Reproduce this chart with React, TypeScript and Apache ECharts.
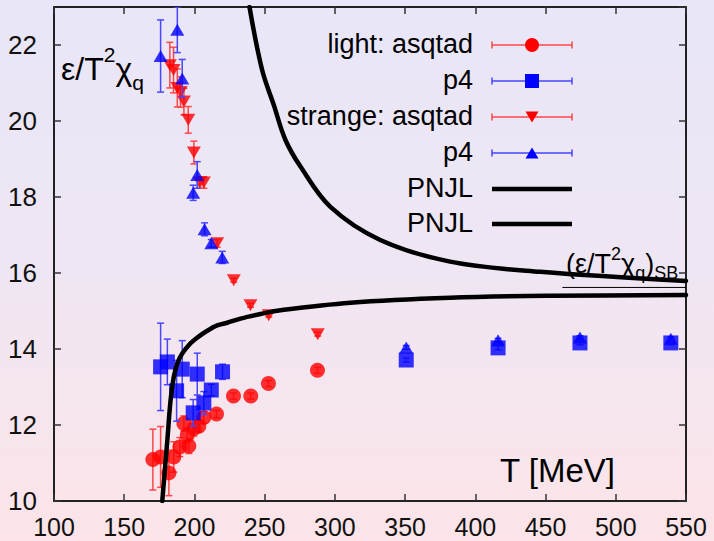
import React, { useEffect, useRef } from 'react';
import * as echarts from 'echarts';

const FONT = '"Liberation Sans", Arial, Helvetica, sans-serif';

// ---------- data ----------
const lightAsqtadT = [170.4, 175.9, 181.8, 185.3, 189.6, 192.5, 194.9, 196.0, 199.6, 203.1, 206.7, 215.7, 227.8, 240.1, 252.7, 287.6];
const lightAsqtadV = [11.09, 11.16, 10.74, 11.16, 11.42, 12.04, 11.73, 11.45, 11.91, 11.97, 12.2, 12.29, 12.76, 12.76, 13.09, 13.44];
const lightAsqtadErr = [0.8, 0.8, 0.6, 0.4, 0.25, 0.2, 0.2, 0.2, 0.2, 0.15, 0.15, 0.1, 0.08, 0.08, 0.08, 0.08];

const lightP4T = [175.9, 180.7, 187.3, 191.3, 199.1, 202.0, 206.7, 212.0, 220.0, 350.8, 416.2, 474.5, 539.2];
const lightP4V = [13.53, 13.66, 12.9, 13.47, 12.32, 13.34, 12.58, 12.92, 13.4, 13.71, 14.03, 14.16, 14.16];
const lightP4Err = [1.15, 0.6, 0.8, 0.75, 0.35, 0.55, 0.3, 0.15, 0.2, 0.05, 0.05, 0.05, 0.05];

const strangeAsqtadT = [182.5, 185.1, 187.8, 190.1, 192.5, 195.6, 199.6, 203.8, 206.7, 216.2, 228.0, 239.9, 252.9, 287.8];
const strangeAsqtadV = [21.47, 21.34, 20.87, 20.76, 20.51, 20.03, 19.17, 18.38, 18.38, 16.78, 15.81, 15.15, 14.89, 14.39];
const strangeAsqtadErr = [0.6, 0.6, 0.5, 0.4, 0.35, 0.35, 0.3, 0.15, 0.15, 0.1, 0.05, 0.05, 0.05, 0.05];

const strangeP4T = [175.9, 187.8, 191.3, 199.1, 202.0, 207.2, 212.0, 219.8, 350.8, 416.2, 474.5, 539.2];
const strangeP4V = [21.71, 22.4, 21.12, 18.11, 18.58, 17.15, 16.78, 16.41, 14.04, 14.23, 14.3, 14.27];
const strangeP4Err = [0.95, 0.6, 0.5, 0.2, 0.35, 0.17, 0.1, 0.16, 0.05, 0.05, 0.05, 0.05];

const pnjlLightT = [177.1, 180.7, 183.0, 185.3, 187.8, 191.3, 197.2, 202.0, 209.1, 216.2, 223.3, 232.8, 247.0, 261.2, 311, 382, 453.4, 550];
const pnjlLightV = [10.0, 11.6, 12.65, 13.27, 13.62, 13.88, 14.15, 14.3, 14.48, 14.62, 14.69, 14.8, 14.92, 15.02, 15.22, 15.35, 15.4, 15.42];

const pnjlStrangeT = [239.2, 248.2, 256.5, 264.8, 275.5, 296.8, 332.3, 382, 446.2, 550];
const pnjlStrangeV = [23.0, 21.34, 20.42, 19.5, 18.8, 17.74, 16.87, 16.3, 16.03, 15.79];

const sbLimitT = [462, 550];
const sbLimitV = [15.62, 15.62];

const legendLabels = ['light: asqtad', 'p4', 'strange: asqtad', 'p4', 'PNJL', 'PNJL'];
const xAxisTitle = 'T [MeV]';

const RED = '#ff0000';
const BLUE = '#0000ff';
const RED_BAR = '#ff4747';
const BLUE_BAR = '#4747ff';

function errorSeries(T: number[], V: number[], E: number[], color: string, z: number) {
  return {
    type: 'custom',
    z,
    silent: true,
    clip: true,
    data: T.map((t, i) => [t, V[i], E[i]]),
    encode: { x: 0, y: 1 },
    renderItem: (_params: any, api: any) => {
      const x = api.value(0);
      const y = api.value(1);
      const e = api.value(2);
      const top = api.coord([x, y + e]);
      const bot = api.coord([x, y - e]);
      const hw = 3.5;
      const st = { stroke: color, lineWidth: 1.5 };
      return {
        type: 'group',
        children: [
          { type: 'line', shape: { x1: top[0], y1: top[1], x2: bot[0], y2: bot[1] }, style: st },
          { type: 'line', shape: { x1: top[0] - hw, y1: top[1], x2: top[0] + hw, y2: top[1] }, style: st },
          { type: 'line', shape: { x1: bot[0] - hw, y1: bot[1], x2: bot[0] + hw, y2: bot[1] }, style: st },
        ],
      };
    },
  };
}

function pairs(T: number[], V: number[]) {
  return T.map((t, i) => [t, V[i]]);
}

function legendGraphics() {
  const rows = [45, 81, 117, 153, 189, 224];
  const xText = 473;
  const x1 = 492;
  const x2 = 572;
  const xm = 532;
  const els: any[] = [];
  rows.forEach((y, i) => {
    els.push({
      type: 'text',
      x: xText,
      y: y - 1,
      z: 100,
      style: { text: legendLabels[i], fontSize: 27, fontFamily: FONT, fill: '#000', align: 'right', verticalAlign: 'middle' },
    });
    if (i < 4) {
      const c = i % 2 === 0 ? RED_BAR : BLUE_BAR;
      const st = { stroke: c, lineWidth: 1.5 };
      els.push({ type: 'line', z: 100, shape: { x1, y1: y, x2, y2: y }, style: st });
      els.push({ type: 'line', z: 100, shape: { x1, y1: y - 3.5, x2: x1, y2: y + 3.5 }, style: st });
      els.push({ type: 'line', z: 100, shape: { x1: x2, y1: y - 3.5, x2, y2: y + 3.5 }, style: st });
      if (i === 0) els.push({ type: 'circle', z: 101, shape: { cx: xm, cy: y, r: 7 }, style: { fill: RED } });
      if (i === 1) els.push({ type: 'rect', z: 101, shape: { x: xm - 7, y: y - 7, width: 14, height: 14 }, style: { fill: BLUE } });
      if (i === 2) els.push({ type: 'polygon', z: 101, shape: { points: [[xm - 6.5, y - 5.5], [xm + 6.5, y - 5.5], [xm, y + 5.5]] }, style: { fill: RED } });
      if (i === 3) els.push({ type: 'polygon', z: 101, shape: { points: [[xm - 6.5, y + 5.5], [xm + 6.5, y + 5.5], [xm, y - 5.5]] }, style: { fill: BLUE } });
    } else {
      els.push({ type: 'line', z: 100, shape: { x1, y1: y, x2, y2: y }, style: { stroke: '#000', lineWidth: 4.5 } });
    }
  });
  return els;
}

export default function App() {
  const ref = useRef<HTMLDivElement>(null);
  useEffect(() => {
    const chart = echarts.init(ref.current!, null, { renderer: 'svg' });
    const axisLine = { show: true, onZero: false, lineStyle: { color: '#222', width: 2 } };
    const axisTick = { show: true, inside: true, length: 7, lineStyle: { color: '#333', width: 1.5 } };
    const curveStyle = { color: '#000', width: 4.5, cap: 'round', join: 'round' };
    const option: any = {
      animation: false,
      backgroundColor: 'transparent',
      grid: { left: 54, right: 28, top: 7, bottom: 40, containLabel: false },
      xAxis: [
        {
          type: 'value', min: 100, max: 550, interval: 50, position: 'bottom',
          axisLine, axisTick, splitLine: { show: false },
          axisLabel: { fontSize: 25, fontFamily: FONT, color: '#111', margin: 15, lineHeight: 22 },
        },
        {
          type: 'value', min: 100, max: 550, interval: 50, position: 'top',
          axisLine, axisTick, splitLine: { show: false }, axisLabel: { show: false },
        },
      ],
      yAxis: [
        {
          type: 'value', min: 10, max: 23, interval: 2, position: 'left',
          axisLine, axisTick, splitLine: { show: false },
          axisLabel: { fontSize: 26, fontFamily: FONT, color: '#111', margin: 17, showMaxLabel: false },
        },
        {
          type: 'value', min: 10, max: 23, interval: 2, position: 'right',
          axisLine, axisTick, splitLine: { show: false }, axisLabel: { show: false },
        },
      ],
      series: [
        errorSeries(lightAsqtadT, lightAsqtadV, lightAsqtadErr, RED_BAR, 2),
        { type: 'scatter', z: 3, symbol: 'circle', symbolSize: 15, itemStyle: { color: RED }, data: pairs(lightAsqtadT, lightAsqtadV), silent: true },
        errorSeries(strangeAsqtadT, strangeAsqtadV, strangeAsqtadErr, RED_BAR, 4),
        { type: 'scatter', z: 5, symbol: 'triangle', symbolRotate: 180, symbolSize: [14, 12], itemStyle: { color: RED }, data: pairs(strangeAsqtadT, strangeAsqtadV), silent: true },
        errorSeries(strangeP4T, strangeP4V, strangeP4Err, BLUE_BAR, 6),
        { type: 'scatter', z: 7, symbol: 'triangle', symbolSize: [14, 12], itemStyle: { color: BLUE }, data: pairs(strangeP4T, strangeP4V), silent: true },
        errorSeries(lightP4T, lightP4V, lightP4Err, BLUE_BAR, 8),
        { type: 'scatter', z: 9, symbol: 'rect', symbolSize: 15, itemStyle: { color: BLUE }, data: pairs(lightP4T, lightP4V), silent: true },
        { type: 'line', z: 10, showSymbol: false, smooth: 0.35, lineStyle: curveStyle, data: pairs(pnjlLightT, pnjlLightV), silent: true },
        { type: 'line', z: 10, showSymbol: false, smooth: 0.35, lineStyle: curveStyle, data: pairs(pnjlStrangeT, pnjlStrangeV), silent: true },
        { type: 'line', z: 10, showSymbol: false, lineStyle: { color: '#000', width: 1 }, data: pairs(sbLimitT, sbLimitV), silent: true },
      ],
      graphic: [
        {
          type: 'text', x: 61, y: 44, z: 100,
          style: {
            text: '{n|ε/T}{sup|2}{n|χ}{sub|q}',
            verticalAlign: 'top', align: 'left',
            rich: {
              n: { fontSize: 32, fontFamily: FONT, fill: '#000', lineHeight: 49 },
              sup: { fontSize: 21, fontFamily: FONT, fill: '#000', lineHeight: 21, verticalAlign: 'top' },
              sub: { fontSize: 21, fontFamily: FONT, fill: '#000', lineHeight: 21, verticalAlign: 'bottom' },
            },
          },
        },
        {
          type: 'text', x: 566, y: 245, z: 100,
          style: {
            text: '{n|(ε/T}{sup|2}{n|χ}{sub|q}{n|)}{sub|SB}',
            verticalAlign: 'top', align: 'left',
            rich: {
              n: { fontSize: 27, fontFamily: FONT, fill: '#000', lineHeight: 37 },
              sup: { fontSize: 18, fontFamily: FONT, fill: '#000', lineHeight: 18, verticalAlign: 'top' },
              sub: { fontSize: 18, fontFamily: FONT, fill: '#000', lineHeight: 23, verticalAlign: 'bottom' },
            },
          },
        },
        {
          type: 'text', x: 500, y: 470, z: 100,
          style: { text: xAxisTitle, fontSize: 33, fontFamily: FONT, fill: '#000', align: 'left', verticalAlign: 'middle' },
        },
        ...legendGraphics(),
      ],
    };
    chart.setOption(option);
    return () => chart.dispose();
  }, []);
  return (
    <div
      ref={ref}
      style={{
        position: 'absolute',
        left: 0,
        top: 0,
        width: 714,
        height: 541,
        background: 'linear-gradient(to bottom, #e8e6f8 0%, #efe6f3 50%, #fce4e8 100%)',
      }}
    />
  );
}
